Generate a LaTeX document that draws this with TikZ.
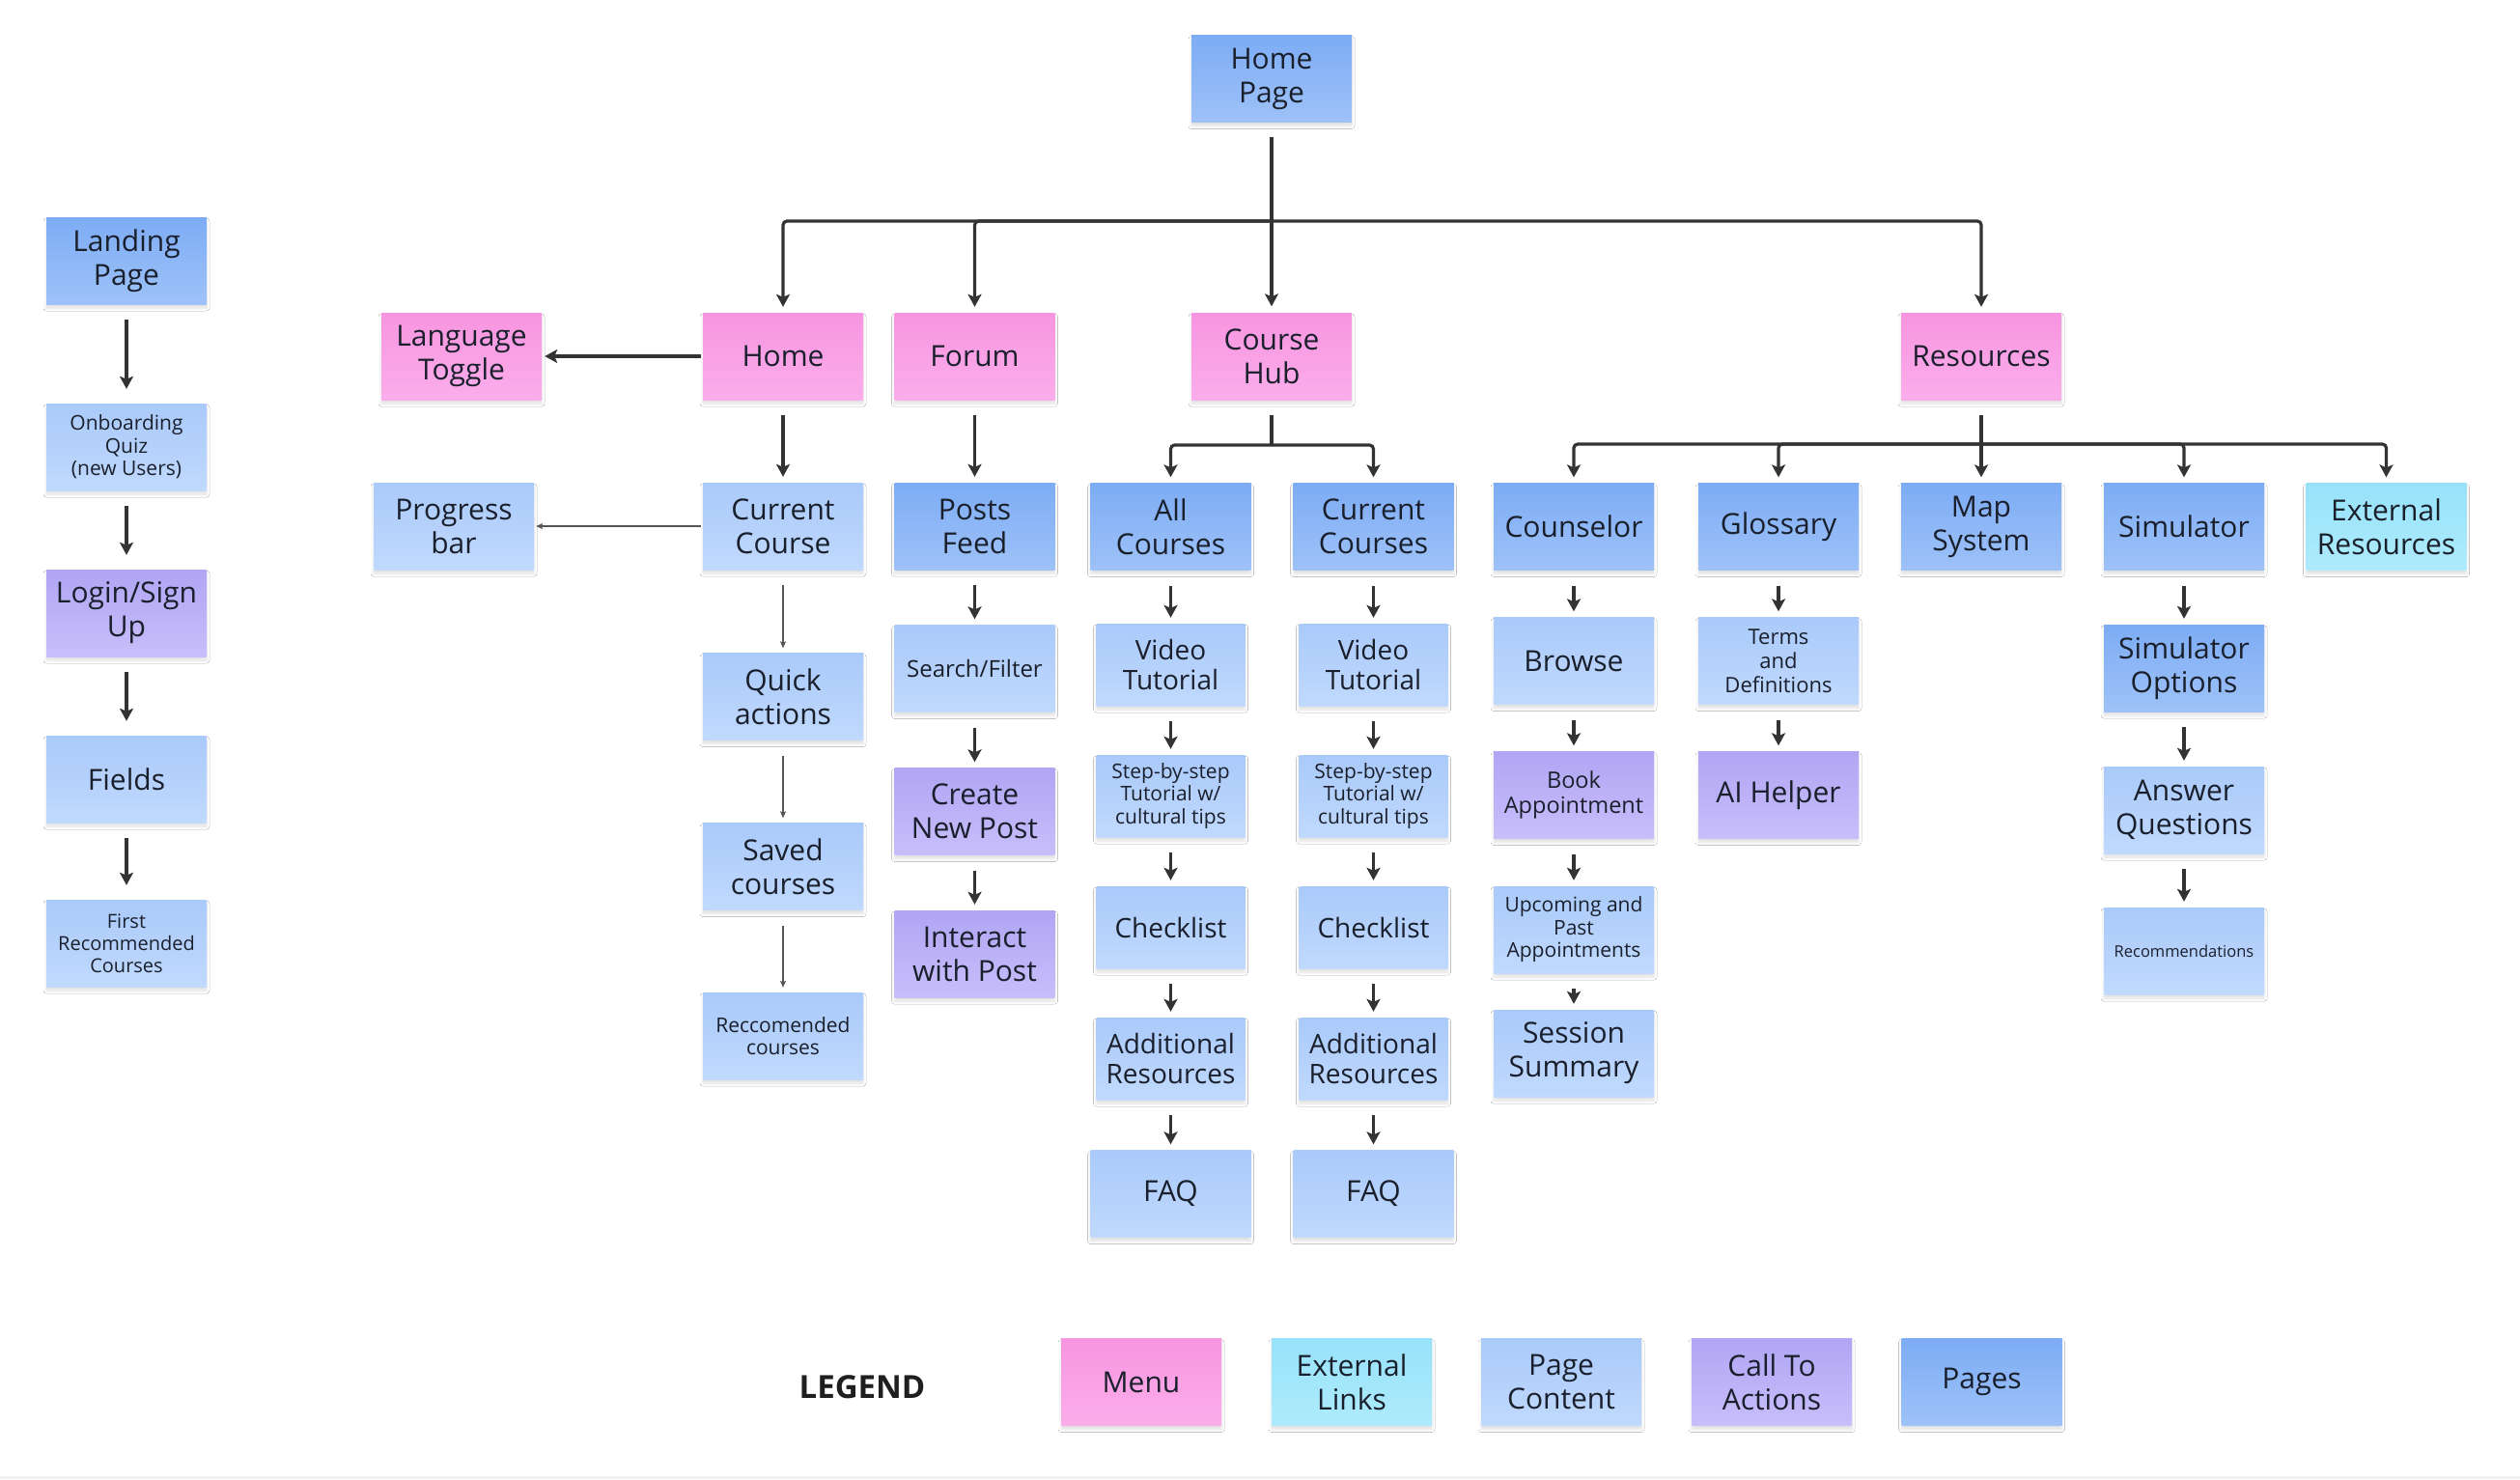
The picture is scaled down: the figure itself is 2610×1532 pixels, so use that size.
\documentclass[tikz,border=0pt]{standalone}
\usepackage{fontspec}
\setmainfont{Open Sans}
\usetikzlibrary{arrows.meta,shadows.blur}
\definecolor{pgTop}{HTML}{7DACF4}
\definecolor{pgBot}{HTML}{9EC2F8}
\definecolor{ctTop}{HTML}{AACAFA}
\definecolor{ctBot}{HTML}{C0D9FD}
\definecolor{mnTop}{HTML}{F795E0}
\definecolor{mnBot}{HTML}{FBADEB}
\definecolor{caTop}{HTML}{B1A5F4}
\definecolor{caBot}{HTML}{C8BEFA}
\definecolor{exTop}{HTML}{97E2FA}
\definecolor{exBot}{HTML}{AEEBFC}
\definecolor{txt}{HTML}{1A1F2C}
\definecolor{arr}{HTML}{333333}
\definecolor{arrthin}{HTML}{555555}
\newcommand\fsBig{\fontsize{30}{35}\selectfont}
\newcommand\fsCrs{\fontsize{28}{31}\selectfont}
\newcommand\fsSm{\fontsize{21}{23.5}\selectfont}
\newcommand\fsFr{\fontsize{20}{23}\selectfont}
\newcommand\fsBk{\fontsize{23.5}{26}\selectfont}
\newcommand\fsSf{\fontsize{24}{27}\selectfont}
\newcommand\fsTn{\fontsize{16.5}{19}\selectfont}
\newcommand\fsTd{\fontsize{22}{25}\selectfont}
\newcommand\fsLeg{\fontsize{33}{38}\selectfont\bfseries}
\begin{document}
\begin{tikzpicture}[x=1pt,y=-1pt,
  nodebox/.style={rectangle, minimum width=166pt, minimum height=90pt, inner sep=0pt,
    align=center, text=txt, font=\fsBig,
    blur shadow={shadow xshift=0pt, shadow yshift=-4pt, shadow blur radius=3pt, shadow opacity=12}},
  pagebox/.style={nodebox, top color=pgTop, bottom color=pgBot},
  contentbox/.style={nodebox, top color=ctTop, bottom color=ctBot},
  menubox/.style={nodebox, top color=mnTop, bottom color=mnBot},
  ctabox/.style={nodebox, top color=caTop, bottom color=caBot},
  extbox/.style={nodebox, top color=exTop, bottom color=exBot},
  narrowbox/.style={contentbox, minimum width=154pt, minimum height=85pt, font=\fsCrs},
  plainline/.style={draw=arr, line width=3.2pt},
  conn/.style={draw=arr, line width=3.2pt, -{Stealth[length=13pt,width=14pt,inset=3pt]},
    shorten <=16pt, shorten >=6pt},
  leftconn/.style={conn, shorten >=15pt},
  thinarrow/.style={draw=arrthin, line width=1.2pt, -{Stealth[length=7pt,width=6pt,inset=1.5pt]},
    shorten <=16pt, shorten >=5pt}
]
\useasboundingbox (0,0) rectangle (2610,1532);
\fill[white] (0,0) rectangle (2610,1532);
\fill[gray!12] (0,1529) rectangle (2610,1532);

% left column
\node[pagebox] (landing) at (131,270) {Landing\\Page};
\node[contentbox, font=\fsSm] (onboard) at (131,463) {Onboarding\\Quiz\\(new Users)};
\node[ctabox] (login) at (131,635) {Login/Sign\\Up};
\node[contentbox] (fields) at (131,807) {Fields};
\node[contentbox, font=\fsFr] (firstrec) at (131,977) {First\\Recommended\\Courses};

% top
\node[pagebox] (homepage) at (1317,81.5) {Home\\Page};
\node[menubox] (lang) at (478,369) {Language\\Toggle};
\node[contentbox] (progress) at (470,545) {Progress\\bar};

% home column
\node[menubox] (home) at (811,369) {Home};
\node[contentbox] (curcourse) at (811,545) {Current\\Course};
\node[contentbox] (quick) at (811,721.5) {Quick\\actions};
\node[contentbox] (saved) at (811,897.5) {Saved\\courses};
\node[contentbox, font=\fsSm] (reccourses) at (811,1073) {Reccomended\\courses};

% forum column
\node[menubox] (forum) at (1009.5,369) {Forum};
\node[pagebox] (posts) at (1009.5,545) {Posts\\Feed};
\node[contentbox, font=\fsSf] (search) at (1009.5,692.5) {Search/Filter};
\node[ctabox] (create) at (1009.5,840.5) {Create\\New Post};
\node[ctabox] (interact) at (1009.5,988) {Interact\\with Post};

% course hub
\node[menubox] (coursehub) at (1317,369) {Course\\Hub};
\node[pagebox] (allc) at (1212.5,545.5) {All\\Courses};
\node[narrowbox] (vida) at (1212.5,688.5) {Video\\Tutorial};
\node[narrowbox, font=\fsSm] (stepa) at (1212.5,824.5) {Step-by-step\\Tutorial w/\\cultural tips};
\node[narrowbox] (checka) at (1212.5,960.5) {Checklist};
\node[narrowbox] (adda) at (1212.5,1096.5) {Additional\\Resources};
\node[contentbox] (faqa) at (1212.5,1236.5) {FAQ};
\node[pagebox] (currc) at (1422.5,545.5) {Current\\Courses};
\node[narrowbox] (vidb) at (1422.5,688.5) {Video\\Tutorial};
\node[narrowbox, font=\fsSm] (stepb) at (1422.5,824.5) {Step-by-step\\Tutorial w/\\cultural tips};
\node[narrowbox] (checkb) at (1422.5,960.5) {Checklist};
\node[narrowbox] (addb) at (1422.5,1096.5) {Additional\\Resources};
\node[contentbox] (faqb) at (1422.5,1236.5) {FAQ};

% resources
\node[menubox] (resources) at (2052,369) {Resources};
\node[pagebox] (counselor) at (1630,545.5) {Counselor};
\node[contentbox] (browse) at (1630,684.5) {Browse};
\node[ctabox, font=\fsBk] (book) at (1630,823.5) {Book\\Appointment};
\node[contentbox, font=\fsSm] (upcoming) at (1630,963) {Upcoming and\\Past\\Appointments};
\node[contentbox] (session) at (1630,1091) {Session\\Summary};
\node[pagebox] (glossary) at (1842,545.5) {Glossary};
\node[contentbox, font=\fsTd] (terms) at (1842,684.5) {Terms\\and\\Definitions};
\node[ctabox] (aihelper) at (1842,823.5) {AI Helper};
\node[pagebox] (mapsys) at (2052,545.5) {Map\\System};
\node[pagebox] (simulator) at (2262,545.5) {Simulator};
\node[pagebox] (simopt) at (2262,692) {Simulator\\Options};
\node[contentbox] (answer) at (2262,839) {Answer\\Questions};
\node[contentbox, font=\fsTn] (recs) at (2262,985) {Recommendations};
\node[extbox] (external) at (2471.5,545.5) {External\\Resources};

% legend
\node[font=\fsLeg, text=black!88] (legendlbl) at (893,1437) {LEGEND};
\node[menubox] (lgmenu) at (1182,1431.5) {Menu};
\node[extbox] (lgext) at (1400,1431.5) {External\\Links};
\node[contentbox] (lgcontent) at (1617,1431.5) {Page\\Content};
\node[ctabox] (lgcta) at (1835,1431.5) {Call To\\Actions};
\node[pagebox] (lgpages) at (2052.5,1431.5) {Pages};

% coordinates of junctions
\coordinate (busleft) at (811,229);
\coordinate (jn) at (1317,229);
\coordinate (chsplit) at (1317,461);
\coordinate (rssplit) at (2052,460);

% top level connectors
\draw[conn, shorten <=15.5pt, shorten >=6.5pt] (homepage.south) -- (coursehub.north);
\draw[conn, shorten <=0pt, rounded corners=4pt] (jn) -| (home.north);
\draw[conn, shorten <=0pt, rounded corners=4pt] (jn) -| (forum.north);
\draw[conn, shorten <=0pt, rounded corners=4pt] (jn) -| (resources.north);

% left column
\draw[leftconn] (landing) -- (onboard);
\draw[leftconn] (onboard) -- (login);
\draw[leftconn] (login) -- (fields);
\draw[leftconn] (fields) -- (firstrec);

% home column
\draw[conn, shorten <=2pt, shorten >=3pt] (home.west) -- (lang.east);
\draw[conn] (home) -- (curcourse);
\draw[thinarrow, shorten <=2pt, shorten >=2pt] (curcourse.west) -- (progress.east);
\draw[thinarrow] (curcourse) -- (quick);
\draw[thinarrow] (quick) -- (saved);
\draw[thinarrow] (saved) -- (reccourses);

% forum column
\draw[conn] (forum) -- (posts);
\draw[conn] (posts) -- (search);
\draw[conn] (search) -- (create);
\draw[conn] (create) -- (interact);

% course hub
\draw[plainline, shorten <=16pt] (coursehub.south) -- (chsplit);
\draw[conn, shorten <=0pt, rounded corners=4pt] (chsplit) -| (allc.north);
\draw[conn, shorten <=0pt, rounded corners=4pt] (chsplit) -| (currc.north);
\draw[conn] (allc) -- (vida);
\draw[conn] (vida) -- (stepa);
\draw[conn] (stepa) -- (checka);
\draw[conn] (checka) -- (adda);
\draw[conn] (adda) -- (faqa);
\draw[conn] (currc) -- (vidb);
\draw[conn] (vidb) -- (stepb);
\draw[conn] (stepb) -- (checkb);
\draw[conn] (checkb) -- (addb);
\draw[conn] (addb) -- (faqb);

% resources
\draw[conn] (resources) -- (mapsys);
\draw[conn, shorten <=0pt, rounded corners=4pt] (rssplit) -| (counselor.north);
\draw[conn, shorten <=0pt, rounded corners=4pt] (rssplit) -| (glossary.north);
\draw[conn, shorten <=0pt, rounded corners=4pt] (rssplit) -| (simulator.north);
\draw[conn, shorten <=0pt, rounded corners=4pt] (rssplit) -| (external.north);
\draw[conn] (counselor) -- (browse);
\draw[conn] (browse) -- (book);
\draw[conn] (book) -- (upcoming);
\draw[conn] (upcoming) -- (session);
\draw[conn] (glossary) -- (terms);
\draw[conn] (terms) -- (aihelper);
\draw[conn] (simulator) -- (simopt);
\draw[conn] (simopt) -- (answer);
\draw[conn] (answer) -- (recs);
\end{tikzpicture}
\end{document}
